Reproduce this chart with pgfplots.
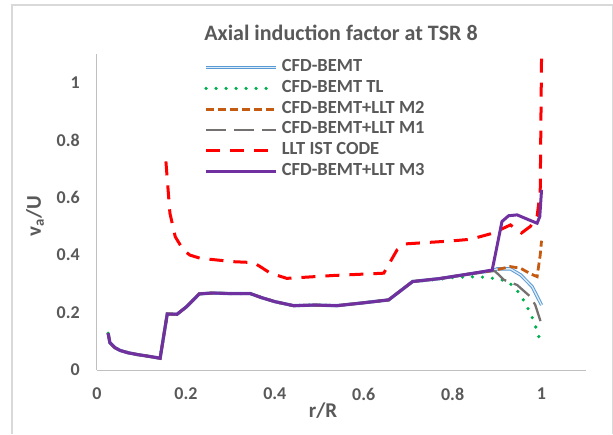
\documentclass[border=0pt]{standalone}
\usepackage{pgfplots}
\pgfplotsset{compat=1.18}
\usepackage{fontspec}
\setmainfont{Carlito}
\definecolor{txt}{HTML}{595959}
\definecolor{axgray}{HTML}{BFBFBF}
\definecolor{framec}{HTML}{D9D9D9}
\definecolor{bemt}{HTML}{5B9BD5}
\definecolor{bemtin}{HTML}{DDEBF7}
\definecolor{tl}{HTML}{00B050}
\definecolor{mtwo}{HTML}{C55A11}
\definecolor{mone}{HTML}{767171}
\definecolor{llt}{HTML}{FF0000}
\definecolor{mthree}{HTML}{7030A0}
\begin{document}
\begin{tikzpicture}[x=1pt,y=1pt]
\path (-97,-64) rectangle (516,370);
\draw[framec, line width=1.2pt] (-85,-64) -- (-85,365) -- (515.4,365) -- (515.4,-64);
\begin{axis}[
  at={(0,0)}, anchor=south west,
  scale only axis, width=489pt, height=316pt,
  xmin=0, xmax=1.1, ymin=0, ymax=1.1,
  axis lines=left,
  axis line style={-, draw=axgray, line width=1pt},
  xtick={0,0.2,0.4,0.6,0.8,1}, ytick={0,0.2,0.4,0.6,0.8,1},
  xticklabels={0,0.2,0.4,0.6,0.8,1}, yticklabels={0,0.2,0.4,0.6,0.8,1},
  major tick length=0pt, tick style={draw=none},
  xticklabel style={anchor=center, yshift=-24pt, inner sep=0pt},
  yticklabel style={anchor=east, xshift=-17pt, inner sep=0pt},
  ticklabel style={font=\bfseries\fontsize{18}{21}\selectfont, text=txt},
  legend style={at={(0.219,0.987)}, anchor=north west, draw=none, fill=none,
    inner sep=0pt, font=\bfseries\fontsize{18.5}{22}\selectfont, text=txt,
    row sep=1.9pt, column sep=0pt,
    nodes={inner sep=1pt, text height=12.5pt, text depth=4.3pt}},
  legend cell align=left,
  legend image code/.code={\draw[#1] (0pt,0pt) -- (70pt,0pt);},
  /tikz/every odd column/.append style={column sep=3pt},
]
\addplot[bemt, line width=1pt, double=bemtin, double distance=1.3pt] coordinates {
(0.025,0.128)(0.029,0.095)(0.04,0.078)(0.052,0.068)(0.07,0.060)(0.09,0.054)(0.115,0.048)(0.142,0.041)(0.158,0.195)(0.18,0.194)(0.202,0.221)(0.23,0.265)(0.26,0.268)(0.30,0.266)(0.345,0.266)(0.37,0.252)(0.40,0.238)(0.442,0.224)(0.49,0.226)(0.54,0.224)(0.60,0.234)(0.656,0.244)(0.71,0.308)(0.77,0.318)(0.84,0.335)(0.89,0.346)
(0.90,0.352)(0.93,0.352)(0.953,0.331)(0.979,0.29)(1.0,0.226)};
\addlegendentry{CFD-BEMT}
\addplot[tl, line width=3.6pt, line cap=round, dash pattern=on 0pt off 10pt] coordinates {
(0.025,0.128)(0.029,0.095)(0.04,0.078)(0.052,0.068)(0.07,0.060)(0.09,0.054)(0.115,0.048)(0.142,0.041)(0.158,0.195)(0.18,0.194)(0.202,0.221)(0.23,0.265)(0.26,0.268)(0.30,0.266)(0.345,0.266)(0.37,0.252)(0.40,0.238)(0.442,0.224)(0.49,0.226)(0.54,0.224)(0.60,0.234)(0.656,0.244)(0.71,0.308)(0.77,0.316)(0.80,0.322)
(0.855,0.325)(0.877,0.322)(0.90,0.317)(0.922,0.31)(0.939,0.288)(0.953,0.261)(0.964,0.23)(0.974,0.201)(0.983,0.168)(0.99,0.136)(0.996,0.105)};
\addlegendentry{CFD-BEMT TL}
\addplot[mtwo, line width=2.8pt, dash pattern=on 8pt off 4pt] coordinates {
(0.025,0.128)(0.029,0.095)(0.04,0.078)(0.052,0.068)(0.07,0.060)(0.09,0.054)(0.115,0.048)(0.142,0.041)(0.158,0.195)(0.18,0.194)(0.202,0.221)(0.23,0.265)(0.26,0.268)(0.30,0.266)(0.345,0.266)(0.37,0.252)(0.40,0.238)(0.442,0.224)(0.49,0.226)(0.54,0.224)(0.60,0.234)(0.656,0.244)(0.71,0.308)(0.77,0.318)(0.84,0.335)(0.89,0.346)
(0.896,0.348)(0.93,0.360)(0.953,0.354)(0.975,0.335)(0.99,0.325)(0.997,0.40)(1.0,0.45)};
\addlegendentry{CFD-BEMT+LLT M2}
\addplot[mone, line width=2.3pt, dash pattern=on 20pt off 8pt] coordinates {
(0.025,0.128)(0.029,0.095)(0.04,0.078)(0.052,0.068)(0.07,0.060)(0.09,0.054)(0.115,0.048)(0.142,0.041)(0.158,0.195)(0.18,0.194)(0.202,0.221)(0.23,0.265)(0.26,0.268)(0.30,0.266)(0.345,0.266)(0.37,0.252)(0.40,0.238)(0.442,0.224)(0.49,0.226)(0.54,0.224)(0.60,0.234)(0.656,0.244)(0.71,0.308)(0.77,0.318)(0.84,0.335)(0.89,0.346)
(0.896,0.343)(0.915,0.314)(0.945,0.296)(0.975,0.255)(0.986,0.226)(0.998,0.168)};
\addlegendentry{CFD-BEMT+LLT M1}
\addplot[llt, line width=3pt, dash pattern=on 14pt off 10pt] coordinates {
(0.155,0.726)(0.164,0.546)(0.176,0.464)(0.194,0.418)(0.209,0.40)(0.232,0.389)(0.307,0.377)(0.352,0.374)(0.367,0.36)(0.39,0.337)(0.427,0.319)(0.532,0.329)(0.645,0.337)(0.675,0.418)(0.694,0.439)(0.795,0.449)(0.84,0.455)(0.89,0.476)(0.93,0.505)(0.955,0.477)(0.975,0.50)(0.99,0.535)(0.997,0.62)(1.0,1.09)};
\addlegendentry{LLT IST CODE}
\addplot[mthree, line width=3pt] coordinates {
(0.025,0.128)(0.029,0.095)(0.04,0.078)(0.052,0.068)(0.07,0.060)(0.09,0.054)(0.115,0.048)(0.142,0.041)(0.158,0.195)(0.18,0.194)(0.202,0.221)(0.23,0.265)(0.26,0.268)(0.30,0.266)(0.345,0.266)(0.37,0.252)(0.40,0.238)(0.442,0.224)(0.49,0.226)(0.54,0.224)(0.60,0.234)(0.656,0.244)(0.71,0.308)(0.77,0.318)(0.84,0.335)(0.889,0.348)
(0.911,0.517)(0.926,0.537)(0.945,0.540)(0.971,0.523)(0.99,0.511)(0.996,0.534)(1.0,0.627)};
\addlegendentry{CFD-BEMT+LLT M3}
\end{axis}
\node[text=txt, font=\bfseries\fontsize{22}{25}\selectfont] at (244,337) {Axial induction factor at TSR 8};
\node[text=txt, font=\bfseries\fontsize{21}{24}\selectfont] at (226,-41) {r/R};
\node[text=txt, font=\bfseries\fontsize{21}{24}\selectfont, rotate=90] at (-62,154) {v\textsubscript{a}/U};
\end{tikzpicture}
\end{document}
